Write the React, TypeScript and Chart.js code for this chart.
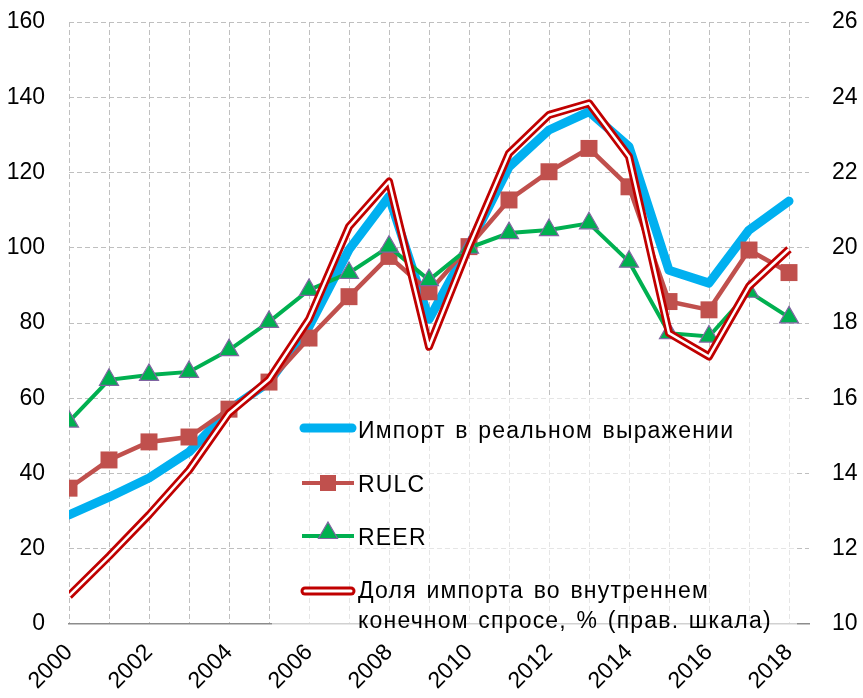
import React, { useEffect, useRef } from "react";
import { Chart, registerables } from "chart.js";

Chart.register(...registerables);

const years = [2000, 2001, 2002, 2003, 2004, 2005, 2006, 2007, 2008, 2009, 2010, 2011, 2012, 2013, 2014, 2015, 2016, 2017, 2018];
const leftTicks = [0, 20, 40, 60, 80, 100, 120, 140, 160];
const rightTicks = [10, 12, 14, 16, 18, 20, 22, 24, 26];

const importReal = [29, 33.7, 38.8, 45.7, 56.9, 64.3, 79, 99.5, 113.6, 81, 100.5, 121.5, 131.3, 136.2, 126.9, 94, 90.6, 104.7, 112.4];
const rulc = [36.1, 43.6, 48.4, 49.7, 57.1, 64.3, 76, 87, 97.7, 88.3, 100.3, 112.7, 120.2, 126.4, 116.2, 85.7, 83.5, 99.4, 93.4];
const reer = [53.8, 64.9, 66.2, 67, 72.8, 80.3, 88.8, 93.3, 100.3, 91.4, 100, 103.9, 104.7, 106.5, 96.3, 77.3, 76.4, 88.3, 81.5];
const importShare = [10.75, 11.8, 12.9, 14.09, 15.6, 16.5, 18.1, 20.56, 21.76, 17.37, 20.03, 22.51, 23.53, 23.84, 22.42, 17.73, 17.11, 18.97, 19.96];

const seriesNames = [
  "Импорт в реальном выражении",
  "RULC",
  "REER",
  "Доля импорта во внутреннем",
  "конечном спросе, % (прав. шкала)",
];

const BLUE = "#00B0F0";
const RULC_C = "#C0504D";
const GREEN = "#00B050";
const PURPLE = "#8064A2";
const RED = "#C00000";
const FONT = "'Liberation Sans', Arial, sans-serif";

const pts = (vals: number[]) => vals.map((v, i) => ({ x: years[i], y: v }));

const legendPlugin = {
  id: "customLegend",
  afterDraw(chart: any) {
    const ctx = chart.ctx as CanvasRenderingContext2D;
    ctx.save();
    ctx.fillStyle = "rgba(255,255,255,0.6)";
    ctx.fillRect(272, 395, 525, 237);

    const x0 = 302;
    const x1 = 354;
    const xm = (x0 + x1) / 2;

    // blue
    ctx.lineCap = "round";
    ctx.strokeStyle = BLUE;
    ctx.lineWidth = 9;
    ctx.beginPath();
    ctx.moveTo(x0 + 2, 428);
    ctx.lineTo(x1 - 2, 428);
    ctx.stroke();

    // RULC
    ctx.lineCap = "butt";
    ctx.strokeStyle = RULC_C;
    ctx.lineWidth = 4;
    ctx.beginPath();
    ctx.moveTo(x0, 483);
    ctx.lineTo(x1, 483);
    ctx.stroke();
    ctx.fillStyle = RULC_C;
    ctx.fillRect(xm - 8, 475, 16, 16);

    // REER
    ctx.strokeStyle = GREEN;
    ctx.lineWidth = 4;
    ctx.beginPath();
    ctx.moveTo(x0, 536);
    ctx.lineTo(x1, 536);
    ctx.stroke();
    const r = 11;
    ctx.beginPath();
    for (let k = 0; k < 3; k++) {
      const a = (k * 2 * Math.PI) / 3;
      const px = xm + Math.sin(a) * r;
      const py = 533 - Math.cos(a) * r;
      if (k === 0) ctx.moveTo(px, py);
      else ctx.lineTo(px, py);
    }
    ctx.closePath();
    ctx.fillStyle = GREEN;
    ctx.fill();
    ctx.strokeStyle = PURPLE;
    ctx.lineWidth = 1.2;
    ctx.stroke();

    // red double
    ctx.lineCap = "round";
    ctx.strokeStyle = RED;
    ctx.lineWidth = 9;
    ctx.beginPath();
    ctx.moveTo(x0 + 3, 591);
    ctx.lineTo(x1 - 3, 591);
    ctx.stroke();
    ctx.strokeStyle = "#fff";
    ctx.lineWidth = 3;
    ctx.beginPath();
    ctx.moveTo(x0 + 3, 591);
    ctx.lineTo(x1 - 3, 591);
    ctx.stroke();

    // text
    ctx.fillStyle = "#000";
    ctx.font = `23px ${FONT}`;
    ctx.textBaseline = "alphabetic";
    ctx.textAlign = "left";
    const c: any = ctx;
    if ("letterSpacing" in c) c.letterSpacing = "1.2px";
    if ("wordSpacing" in c) c.wordSpacing = "2px";
    const tx = 358;
    ctx.fillText(seriesNames[0], tx, 438);
    ctx.fillText(seriesNames[1], tx, 492);
    ctx.fillText(seriesNames[2], tx, 545);
    ctx.fillText(seriesNames[3], tx, 598);
    ctx.fillText(seriesNames[4], tx, 628);
    ctx.restore();
  },
};

export default function App() {
  const ref = useRef<HTMLCanvasElement | null>(null);

  useEffect(() => {
    if (!ref.current) return;
    const gridColor = "#BFBFBF";
    const chart = new Chart(ref.current, {
      type: "line",
      data: {
        datasets: [
          {
            label: "importShareInner",
            data: pts(importShare),
            yAxisID: "y1",
            borderColor: "#FFFFFF",
            borderWidth: 2.5,
            borderJoinStyle: "round",
            pointRadius: 0,
            tension: 0,
            order: 1,
          },
          {
            label: seriesNames[3] + " " + seriesNames[4],
            data: pts(importShare),
            yAxisID: "y1",
            borderColor: RED,
            borderWidth: 8,
            borderJoinStyle: "round",
            pointRadius: 0,
            tension: 0,
            order: 2,
          },
          {
            label: seriesNames[2],
            data: pts(reer),
            yAxisID: "y",
            borderColor: GREEN,
            borderWidth: 4,
            pointStyle: "triangle",
            pointRadius: 11,
            pointBackgroundColor: GREEN,
            pointBorderColor: PURPLE,
            pointBorderWidth: 1.2,
            tension: 0,
            order: 3,
          },
          {
            label: seriesNames[1],
            data: pts(rulc),
            yAxisID: "y",
            borderColor: RULC_C,
            borderWidth: 4.5,
            pointStyle: "rect",
            pointRadius: 12,
            pointBackgroundColor: RULC_C,
            pointBorderColor: RULC_C,
            pointBorderWidth: 0,
            tension: 0,
            order: 4,
          },
          {
            label: seriesNames[0],
            data: pts(importReal),
            yAxisID: "y",
            borderColor: BLUE,
            borderWidth: 9,
            borderCapStyle: "round",
            borderJoinStyle: "round",
            pointRadius: 0,
            tension: 0,
            order: 5,
          },
        ],
      },
      options: {
        animation: false,
        responsive: false,
        maintainAspectRatio: false,
        layout: { padding: { top: 22, bottom: 0, left: 0, right: 0 } },
        plugins: {
          legend: { display: false },
          tooltip: { enabled: false },
        },
        scales: {
          x: {
            type: "linear",
            min: 2000,
            max: 2018.5,
            afterBuildTicks: (scale: any) => {
              scale.ticks = years.map((v) => ({ value: v }));
            },
            afterFit: (scale: any) => {
              scale.height = 74;
              scale.paddingLeft = 0;
              scale.paddingRight = 0;
            },
            grid: {
              color: gridColor,
              lineWidth: 1,
              drawTicks: false,
            },
            border: { display: true, color: "#8C8C8C", width: 1.5, dash: [5, 3] },
            ticks: {
              autoSkip: false,
              maxRotation: 45,
              minRotation: 45,
              padding: 15,
              color: "#000",
              font: { family: FONT, size: 23 },
              callback: (v: any) => (Number(v) % 2 === 0 ? String(v) : ""),
            },
          },
          y: {
            position: "left",
            min: 0,
            max: 160,
            afterBuildTicks: (scale: any) => {
              scale.ticks = leftTicks.map((v) => ({ value: v }));
            },
            afterFit: (scale: any) => {
              scale.width = 69;
              scale.paddingTop = 0;
              scale.paddingBottom = 0;
            },
            grid: {
              color: (c: any) => (c.tick && c.tick.value === 0 ? "rgba(0,0,0,0)" : gridColor),
              lineWidth: 1,
              drawTicks: false,
            },
            border: { display: false, dash: [5, 3] },
            ticks: {
              padding: 24,
              color: "#000",
              font: { family: FONT, size: 23 },
            },
          },
          y1: {
            position: "right",
            min: 10,
            max: 26,
            afterBuildTicks: (scale: any) => {
              scale.ticks = rightTicks.map((v) => ({ value: v }));
            },
            afterFit: (scale: any) => {
              scale.width = 54;
              scale.paddingTop = 0;
              scale.paddingBottom = 0;
            },
            grid: { display: false, drawTicks: false },
            border: { display: false },
            ticks: {
              padding: 23,
              color: "#000",
              font: { family: FONT, size: 23 },
            },
          },
        },
      },
      plugins: [legendPlugin],
    } as any);
    return () => chart.destroy();
  }, []);

  return (
    <div style={{ position: "absolute", left: 0, top: 0, width: 863, height: 698, background: "#fff" }}>
      <canvas ref={ref} width={863} height={698} style={{ display: "block" }} />
    </div>
  );
}
